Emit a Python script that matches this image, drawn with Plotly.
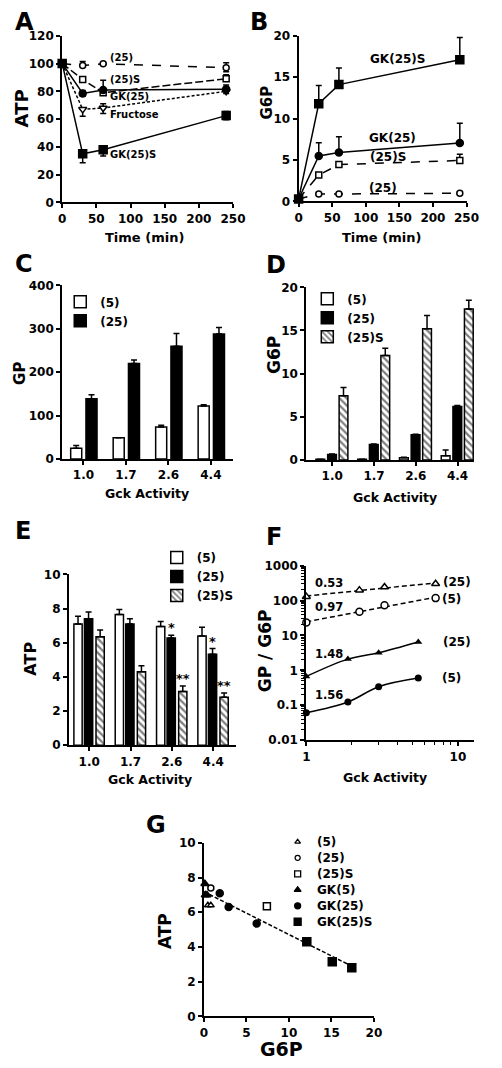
import numpy as np
import plotly.graph_objects as go

# page is 502x1068; the body keeps its default 8px margin, so the figure is 16px smaller
W, H = 502, 1068
M = 8
FW, FH = W - 2 * M, H - 2 * M

# ---------------- data ----------------
time_min = [0, 30, 60, 240]
atp_25 = [100, 98.5, 99.8, 97]
atp_25_ep = [0, 3, 1, 3.5]
atp_25_em = [0, 0, 0, 3]
atp_25S = [100, 88.5, 79, 89]
atp_25S_ep = [0, 2, 2, 3]
atp_25S_em = [0, 0, 0, 0]
atp_GK25 = [100, 78.5, 81, 81.5]
atp_GK25_ep = [0, 2, 7, 3]
atp_GK25_em = [0, 2, 0, 3]
atp_fru = [100, 67, 68, 80]
atp_fru_ep = [0, 0, 3, 0]
atp_fru_em = [0, 5, 4, 0]
atp_GK25S = [100, 35, 38, 62.5]
atp_GK25S_ep = [0, 0, 0, 3]
atp_GK25S_em = [0, 6.5, 4.5, 3]

g6p_t_GK25S = [0.3, 11.8, 14.1, 17.1]
g6p_t_GK25S_e = [0, 2.2, 2.0, 2.7]
g6p_t_GK25 = [0.3, 5.5, 5.9, 7.05]
g6p_t_GK25_e = [0, 1.6, 1.9, 2.4]
g6p_t_25S = [0.3, 3.2, 4.45, 4.95]
g6p_t_25S_e = [0, 0, 0, 0.75]
g6p_t_25 = [0.3, 0.9, 0.9, 1.0]
g6p_t_25_e = [0, 0, 0, 0]

gck = ["1.0", "1.7", "2.6", "4.4"]
gp_5 = [25, 49, 73.5, 122]
gp_5_e = [6, 0, 4.5, 3]
gp_25 = [139, 220, 260, 288]
gp_25_e = [9, 8, 29, 15]

g6p_5 = [0.1, 0.1, 0.27, 0.5]
g6p_5_e = [0, 0, 0.05, 0.65]
g6p_25 = [0.65, 1.8, 2.93, 6.2]
g6p_25_e = [0.05, 0.05, 0.05, 0.1]
g6p_25S = [7.45, 12.1, 15.2, 17.5]
g6p_25S_e = [0.95, 0.85, 1.55, 1.0]

atp_c5 = [7.1, 7.65, 6.95, 6.4]
atp_c5_e = [0.45, 0.3, 0.3, 0.5]
atp_c25 = [7.4, 7.1, 6.27, 5.33]
atp_c25_e = [0.4, 0.3, 0.17, 0.33]
atp_c25S = [6.35, 4.3, 3.15, 2.8]
atp_c25S_e = [0.4, 0.35, 0.32, 0.25]
sig_25 = ["", "", "*", "*"]
sig_25S = ["", "", "**", "**"]

f_x_open = [1, 2.24, 3.28, 7.13]
f_open_25 = [129, 198, 243, 302]
f_open_5 = [23.6, 47.6, 72.6, 117]
f_x_fill = [1, 1.88, 3.0, 5.48]
f_fill_25 = [0.67, 2.1, 3.2, 6.5]
f_fill_5 = [0.061, 0.124, 0.34, 0.6]
f_slopes = ["0.53", "0.97", "1.48", "1.56"]

gx_5 = [0.45, 0.8]
gy_5 = [6.4, 6.4]
gx_25 = [0.8]
gy_25 = [7.4]
gx_25S = [7.4]
gy_25S = [6.35]
gx_GK5 = [0.1, 0.15, 0.35]
gy_GK5 = [7.65, 7.0, 7.0]
gx_GK25 = [1.85, 2.9, 6.2]
gy_GK25 = [7.1, 6.3, 5.35]
gx_GK25S = [12.1, 15.1, 17.4]
gy_GK25S = [4.3, 3.15, 2.8]

g_legend_names = ["(5)", "(25)", "(25)S", "GK(5)", "GK(25)", "GK(25)S"]

# ---------------- helpers ----------------
FONT = "DejaVu Sans"


def px(x):
    return (x - M) / FW


def py(y):
    return 1 - (y - M) / FH


def dxd(a, b):
    return [px(a), px(b)]


def dyd(t, b):
    return [py(b), py(t)]


def axis_style(**kw):
    d = dict(showline=True, linecolor="black", linewidth=2, ticks="outside",
             ticklen=4, tickwidth=2, tickcolor="black", showgrid=False,
             zeroline=False, tickfont=dict(size=12, family=FONT, weight="bold", color="black"))
    d.update(kw)
    return d


annotations = []


def ann(text, x, y, size=12, xanchor="center", yanchor="middle", angle=0):
    annotations.append(dict(text=text, x=px(x), y=py(y), xref="paper", yref="paper",
                            xanchor=xanchor, yanchor=yanchor, showarrow=False,
                            textangle=angle,
                            font=dict(size=size, family=FONT, weight="bold", color="black")))


fig = go.Figure()


def err(plus, minus=None, w=3):
    if minus is None:
        minus = [0] * len(plus)
    return dict(type="data", array=plus, arrayminus=minus, symmetric=False,
                color="black", thickness=1.5, width=w)


def line_trace(x, y, xa, ya, symbol, fill, dash, ep, em, size=7):
    return go.Scatter(x=x, y=y, xaxis=xa, yaxis=ya, mode="lines+markers",
                      line=dict(color="black", width=1.5, dash=dash),
                      marker=dict(symbol=symbol, size=size, color=fill,
                                  line=dict(color="black", width=1.5)),
                      error_y=err(ep, em), showlegend=False, cliponaxis=False)


# Panel A
fig.add_trace(line_trace(time_min, atp_25, "x", "y", "circle", "white", "dash", atp_25_ep, atp_25_em, 6))
fig.add_trace(line_trace(time_min, atp_25S, "x", "y", "square", "white", "8px,3px", atp_25S_ep, atp_25S_em, 6))
fig.add_trace(line_trace(time_min, atp_fru, "x", "y", "triangle-down", "white", "3px,2px", atp_fru_ep, atp_fru_em, 7))
fig.add_trace(line_trace(time_min, atp_GK25, "x", "y", "circle", "black", "solid", atp_GK25_ep, atp_GK25_em, 7))
fig.add_trace(line_trace(time_min, atp_GK25S, "x", "y", "square", "black", "solid", atp_GK25S_ep, atp_GK25S_em, 8))

# Panel B
fig.add_trace(line_trace(time_min, g6p_t_25, "x2", "y2", "circle", "white", "dash", g6p_t_25_e, None, 6))
fig.add_trace(line_trace(time_min, g6p_t_25S, "x2", "y2", "square", "white", "dash", g6p_t_25S_e, None, 6))
fig.add_trace(line_trace(time_min, g6p_t_GK25, "x2", "y2", "circle", "black", "solid", g6p_t_GK25_e, None, 7))
fig.add_trace(line_trace(time_min, g6p_t_GK25S, "x2", "y2", "square", "black", "solid", g6p_t_GK25S_e, None, 8))

# bars
WHITE = dict(color="white", line=dict(color="black", width=1.5))
BLACK = dict(color="black", line=dict(color="black", width=1.5))
HATCH = dict(color="white", line=dict(color="black", width=1.5),
             pattern=dict(shape="\\", fgcolor="black", bgcolor="white", size=5, solidity=0.45))


def bar(y, e, name, marker, xa, ya, off, wd, leg):
    return go.Bar(x=gck, y=y, name=name, marker=marker, xaxis=xa, yaxis=ya,
                  offset=off, width=wd, error_y=err(e, None, 3), legend=leg)


fig.add_trace(bar(gp_5, gp_5_e, "(5)", WHITE, "x3", "y3", -0.3, 0.26, "legend"))
fig.add_trace(bar(gp_25, gp_25_e, "(25)", BLACK, "x3", "y3", 0.06, 0.26, "legend"))
fig.add_trace(bar(g6p_5, g6p_5_e, "(5)", WHITE, "x4", "y4", -0.39, 0.21, "legend2"))
fig.add_trace(bar(g6p_25, g6p_25_e, "(25)", BLACK, "x4", "y4", -0.11, 0.21, "legend2"))
fig.add_trace(bar(g6p_25S, g6p_25S_e, "(25)S", HATCH, "x4", "y4", 0.165, 0.21, "legend2"))
fig.add_trace(bar(atp_c5, atp_c5_e, "(5)", WHITE, "x5", "y5", -0.37, 0.2, "legend3"))
fig.add_trace(bar(atp_c25, atp_c25_e, "(25)", BLACK, "x5", "y5", -0.115, 0.2, "legend3"))
fig.add_trace(bar(atp_c25S, atp_c25S_e, "(25)S", HATCH, "x5", "y5", 0.165, 0.2, "legend3"))

for i in range(len(gck)):
    for lab, vals, errs, off in ((sig_25[i], atp_c25, atp_c25_e, -0.015),
                                 (sig_25S[i], atp_c25S, atp_c25S_e, 0.265)):
        if lab:
            annotations.append(dict(text=lab, x=i + off, y=vals[i] + errs[i], xref="x5", yref="y5",
                                    xanchor="center", yanchor="bottom", showarrow=False, yshift=-2,
                                    font=dict(size=13, family=FONT, weight="bold", color="black")))

# Panel F
for yv, sym in ((f_open_25, "triangle-up"), (f_open_5, "circle")):
    c = np.polyfit(np.log10(f_x_open), np.log10(yv), 1)
    xl = np.array([f_x_open[0], f_x_open[-1]])
    fig.add_trace(go.Scatter(x=xl, y=10 ** np.polyval(c, np.log10(xl)), xaxis="x6", yaxis="y6",
                             mode="lines", line=dict(color="black", width=1.5, dash="5px,3px"),
                             showlegend=False, cliponaxis=False))
    fig.add_trace(go.Scatter(x=f_x_open, y=yv, xaxis="x6", yaxis="y6", mode="markers",
                             marker=dict(symbol=sym, size=7, color="white", line=dict(color="black", width=1.5)),
                             showlegend=False, cliponaxis=False))
for yv, sym in ((f_fill_25, "triangle-up"), (f_fill_5, "circle")):
    fig.add_trace(go.Scatter(x=f_x_fill, y=yv, xaxis="x6", yaxis="y6", mode="lines+markers",
                             line=dict(color="black", width=1.5, shape="spline"),
                             marker=dict(symbol=sym, size=7, color="black"),
                             showlegend=False, cliponaxis=False))

# Panel G
all_gx = gx_5 + gx_25 + gx_25S + gx_GK5 + gx_GK25 + gx_GK25S
all_gy = gy_5 + gy_25 + gy_25S + gy_GK5 + gy_GK25 + gy_GK25S
cg = np.polyfit(all_gx, all_gy, 1)
gxl = np.array([0, max(all_gx)])
fig.add_trace(go.Scatter(x=gxl, y=np.polyval(cg, gxl), xaxis="x7", yaxis="y7", mode="lines",
                         line=dict(color="black", width=1.5, dash="4px,2px"), showlegend=False))
g_styles = [("triangle-up", "white", 6), ("circle", "white", 6), ("square", "white", 7),
            ("triangle-up", "black", 7), ("circle", "black", 7), ("square", "black", 8)]
g_sets = [(gx_5, gy_5), (gx_25, gy_25), (gx_25S, gy_25S),
          (gx_GK5, gy_GK5), (gx_GK25, gy_GK25), (gx_GK25S, gy_GK25S)]
for (gxv, gyv), (sym, fill, sz) in zip(g_sets, g_styles):
    fig.add_trace(go.Scatter(x=gxv, y=gyv, xaxis="x7", yaxis="y7", mode="markers",
                             marker=dict(symbol=sym, size=sz, color=fill, line=dict(color="black", width=1.5)),
                             showlegend=False, cliponaxis=False))

# G legend keys drawn on an invisible pixel-space overlay axis (x8/y8)
leg_row_y = [846 + 16.2 * k for k in range(len(g_legend_names))]
for k, (name, (sym, fill, sz)) in enumerate(zip(g_legend_names, g_styles)):
    fig.add_trace(go.Scatter(x=[304], y=[leg_row_y[k]], xaxis="x8", yaxis="y8", mode="markers",
                             marker=dict(symbol=sym, size=sz - 1, color=fill, line=dict(color="black", width=1.3)),
                             showlegend=False, hoverinfo="skip"))
    ann(name, 322, leg_row_y[k], 12, xanchor="left")

# text labels (panel letters left-anchored so they stay inside the page)
for L, x, y in (("A", 9, 15), ("C", 9, 260), ("E", 9, 531)):
    ann(L, x, y, 24, xanchor="left")
for L, x, y in (("B", 264, 15), ("D", 282, 261), ("F", 280, 537), ("G", 157, 829)):
    ann(L, x, y, 24)

ann("ATP", 18, 103, 18, angle=-90)
ann("G6P", 272, 97, 15, angle=-90)
ann("GP", 16, 371, 15, angle=-90)
ann("G6P", 280, 352, 17, angle=-90)
ann("ATP", 27, 660, 16, angle=-90)
ann("GP / G6P", 271, 652, 17, angle=-90)
ann("ATP", 166, 936, 17, angle=-90)
ann("Time (min)", 145, 233, 13)
ann("Time (min)", 391, 233, 13)
ann("Gck Activity", 148, 493, 12.5)
ann("Gck Activity", 405, 497, 12.5)
ann("Gck Activity", 151, 783, 12.5)
ann("Gck Activity", 395, 781, 12.5)
ann("G6P", 287, 1056, 19)

ann("(25)", 107, 51, 10, xanchor="left")
ann("(25)S", 107, 73, 10, xanchor="left")
ann("GK(25)", 107, 91, 10, xanchor="left")
ann("Fructose", 107, 109, 10, xanchor="left")
ann("GK(25)S", 107, 149, 10, xanchor="left")
ann("GK(25)S", 407, 53, 12)
ann("GK(25)", 402, 133, 12)
ann("(25)S", 398, 152, 12)
ann("(25)", 392, 183, 12)
ann(f_slopes[0], 337, 584, 11.5)
ann(f_slopes[1], 337, 608, 11.5)
ann(f_slopes[2], 337, 656, 11.5)
ann(f_slopes[3], 337, 697, 11.5)
ann("(25)", 453, 583, 12, xanchor="left")
ann("(5)", 452, 600, 12, xanchor="left")
ann("(25)", 453, 643, 12, xanchor="left")
ann("(5)", 452, 680, 12, xanchor="left")

leg_common = dict(bgcolor="rgba(0,0,0,0)", xanchor="left", yanchor="top", tracegroupgap=0,
                  font=dict(size=12, family=FONT, weight="bold", color="black"))

fig.update_layout(
    width=FW, height=FH, margin=dict(l=0, r=0, t=0, b=0),
    paper_bgcolor="white", plot_bgcolor="rgba(0,0,0,0)",
    font=dict(family=FONT, weight="bold", color="black", size=12),
    barmode="overlay",
    annotations=annotations,
    legend=dict(x=px(58), y=py(284), **leg_common),
    legend2=dict(x=px(314), y=py(281), **leg_common),
    legend3=dict(x=px(158), y=py(543), **leg_common),
    xaxis=axis_style(domain=dxd(60, 237), anchor="y", range=[0, 250], dtick=50),
    yaxis=axis_style(domain=dyd(29, 198), anchor="x", range=[0, 120], dtick=20),
    xaxis2=axis_style(domain=dxd(305, 479), anchor="y2", range=[0, 250], dtick=50),
    yaxis2=axis_style(domain=dyd(29, 197), anchor="x2", range=[0, 20], dtick=5),
    xaxis3=axis_style(domain=dxd(60, 237), anchor="y3", type="category", range=[-0.5, 3.52]),
    yaxis3=axis_style(domain=dyd(282, 458), anchor="x3", range=[0, 400], dtick=100),
    xaxis4=axis_style(domain=dxd(313, 487), anchor="y4", type="category", range=[-0.62, 3.4]),
    yaxis4=axis_style(domain=dyd(284, 459), anchor="x4", range=[0, 20], dtick=5),
    xaxis5=axis_style(domain=dxd(67, 240), anchor="y5", type="category", range=[-0.49, 3.55]),
    yaxis5=axis_style(domain=dyd(575, 748), anchor="x5", range=[0, 10], dtick=2),
    xaxis6=axis_style(domain=dxd(313, 487), anchor="y6", type="log", range=[0, 1.108],
                      tickvals=[1, 10], ticktext=["1", "10"],
                      minor=dict(ticks="outside", ticklen=3, tickwidth=1, tickcolor="black", dtick="D1")),
    yaxis6=axis_style(domain=dyd(566, 743), anchor="x6", type="log", range=[-2, 3],
                      tickvals=[0.01, 0.1, 1, 10, 100, 1000],
                      ticktext=["0.01", "0.1", "1", "10", "100", "1000"],
                      minor=dict(ticks="outside", ticklen=3, tickwidth=1, tickcolor="black", dtick="D1")),
    xaxis7=axis_style(domain=dxd(207, 383), anchor="y7", range=[0, 20], dtick=5),
    yaxis7=axis_style(domain=dyd(847, 1023), anchor="x7", range=[0, 10], dtick=2),
    # invisible pixel-space overlay used only for the G legend keys
    xaxis8=dict(domain=[0, 1], range=[M, W - M], visible=False, fixedrange=True),
    yaxis8=dict(domain=[0, 1], range=[H - M, M], visible=False, fixedrange=True),
)

fig.write_html("out.html", config={"displayModeBar": False})
